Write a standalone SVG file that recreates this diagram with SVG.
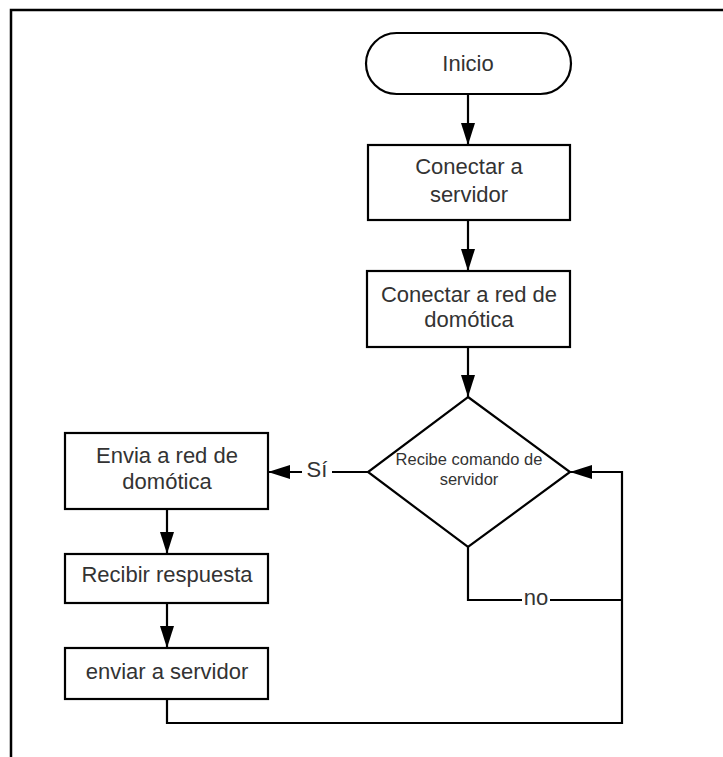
<svg xmlns="http://www.w3.org/2000/svg" width="723" height="757" viewBox="0 0 723 757">
<defs>
<marker id="ah" viewBox="0 0 22 14" refX="22" refY="7" markerWidth="22" markerHeight="14" markerUnits="userSpaceOnUse" orient="auto">
<path d="M0,0 L22,7 L0,14 Z" fill="#000"/>
</marker>
<style>
.shape{fill:#fff;stroke:#000;stroke-width:2.2}
.ln{fill:none;stroke:#000;stroke-width:2.2}
.t{font-family:"Liberation Sans",Arial,sans-serif;font-size:22px;fill:#333;text-anchor:middle}
.ts{font-family:"Liberation Sans",Arial,sans-serif;font-size:16.5px;fill:#333;text-anchor:middle}
</style>
</defs>
<rect width="723" height="757" fill="#fff"/>
<path d="M11,757 L11,10 L723,10" fill="none" stroke="#000" stroke-width="2.5"/>
<g id="connectors">
<line class="ln" x1="468" y1="94" x2="468" y2="145" marker-end="url(#ah)"/>
<line class="ln" x1="468" y1="220" x2="468" y2="271" marker-end="url(#ah)"/>
<line class="ln" x1="468" y1="347" x2="468" y2="397" marker-end="url(#ah)"/>
<line class="ln" x1="368" y1="472" x2="268" y2="472" marker-end="url(#ah)"/>
<line class="ln" x1="167" y1="509" x2="167" y2="554" marker-end="url(#ah)"/>
<line class="ln" x1="167" y1="603" x2="167" y2="648" marker-end="url(#ah)"/>
<polyline class="ln" points="468,547 468,600 622,600"/>
<polyline class="ln" points="167,699 167,723 622,723 622,472 570,472" marker-end="url(#ah)"/>
<rect x="302" y="460" width="30" height="22" fill="#fff"/>
<text class="t" x="317" y="477">Sí</text>
<rect x="522" y="592" width="28" height="16" fill="#fff"/>
<text class="t" x="536" y="605">no</text>
</g>
<g id="inicio">
<rect class="shape" x="366" y="33" width="205" height="61" rx="30.5" ry="30.5"/>
<text class="t" x="468" y="71">Inicio</text>
</g>
<g id="conectar-servidor">
<rect class="shape" x="368" y="145" width="202" height="75"/>
<text class="t" x="469" y="174">Conectar a</text>
<text class="t" x="469" y="202">servidor</text>
</g>
<g id="conectar-red">
<rect class="shape" x="367" y="271" width="203" height="76"/>
<text class="t" x="469" y="302">Conectar a red de</text>
<text class="t" x="469" y="327">domótica</text>
</g>
<g id="decision">
<polygon class="shape" points="468,397 570,472 468,547 368,472"/>
<text class="ts" x="469" y="465">Recibe comando de</text>
<text class="ts" x="469" y="485">servidor</text>
</g>
<g id="envia-red">
<rect class="shape" x="65" y="433" width="203" height="76"/>
<text class="t" x="167" y="463">Envia a red de</text>
<text class="t" x="167" y="489">domótica</text>
</g>
<g id="recibir">
<rect class="shape" x="65" y="554" width="203" height="49"/>
<text class="t" x="167" y="582">Recibir respuesta</text>
</g>
<g id="enviar-servidor">
<rect class="shape" x="65" y="648" width="203" height="51"/>
<text class="t" x="167" y="679">enviar a servidor</text>
</g>
</svg>
